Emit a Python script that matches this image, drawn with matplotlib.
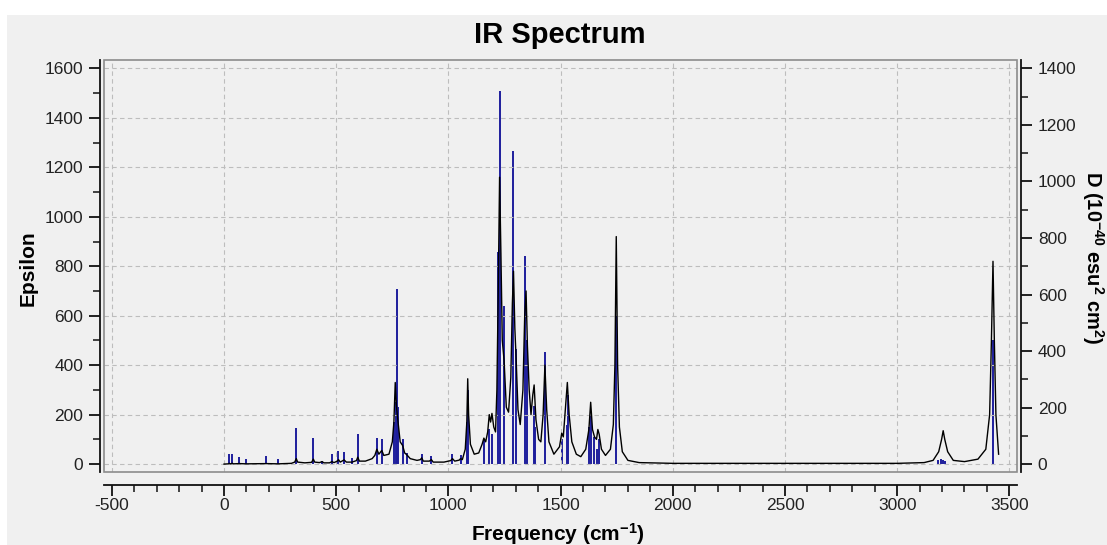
import matplotlib
matplotlib.use("Agg")
import matplotlib.pyplot as plt
from matplotlib.patches import Rectangle
from matplotlib.ticker import MultipleLocator, FixedLocator

plt.rcParams['font.family'] = ['Liberation Sans', 'DejaVu Sans']
plt.rcParams['mathtext.default'] = 'regular'
plt.rcParams['axes.unicode_minus'] = False

# ---- data ----
stick_freq = [24, 37, 68, 100, 189, 241, 322, 398, 437, 481, 510, 535, 569, 596,
              681, 703, 759, 766, 770, 776, 796, 814, 881, 924, 1018, 1054, 1083,
              1088, 1158, 1180, 1192, 1220, 1232, 1248, 1290, 1302, 1342, 1350,
              1380, 1386, 1431, 1505, 1528, 1534, 1628, 1635, 1651, 1660, 1672,
              1748, 3180, 3195, 3205, 3215, 3428]
stick_D = [37, 37, 26, 17, 27, 18, 128, 92, 10, 37, 47, 42, 21, 107,
           92, 87, 149, 219, 621, 201, 87, 39, 35, 28, 35, 31, 149,
           262, 87, 125, 105, 752, 1321, 560, 1107, 408, 735, 438,
           204, 131, 398, 88, 140, 245, 131, 175, 96, 52, 88,
           525, 13, 17, 16, 10, 438]

curve_freq = [0, 20, 24, 28, 37, 42, 68, 100, 189, 241, 300, 315, 322, 328, 360, 390,
              398, 404, 425, 437, 445, 470, 481, 490, 505, 510, 518, 535, 545, 570,
              590, 596, 603, 630, 660, 672, 681, 690, 703, 712, 735, 750, 757, 763,
              768, 772, 778, 785, 796, 805, 814, 830, 860, 875, 881, 888, 915, 924,
              932, 980, 1010, 1018, 1028, 1048, 1054, 1062, 1075, 1082, 1086, 1090,
              1098, 1115, 1135, 1150, 1158, 1166, 1175, 1182, 1188, 1194, 1202, 1210,
              1216, 1222, 1228, 1234, 1240, 1248, 1258, 1268, 1278, 1285, 1290, 1296,
              1302, 1310, 1320, 1332, 1340, 1346, 1352, 1360, 1368, 1376, 1382, 1390,
              1402, 1412, 1422, 1430, 1438, 1448, 1470, 1495, 1505, 1512, 1522, 1530,
              1538, 1550, 1570, 1590, 1612, 1626, 1634, 1642, 1651, 1660, 1666, 1672,
              1682, 1700, 1722, 1735, 1742, 1748, 1754, 1762, 1775, 1800, 1850, 2000,
              3000, 3120, 3160, 3185, 3198, 3205, 3212, 3225, 3250, 3300, 3360, 3395,
              3412, 3420, 3427, 3433, 3440, 3448, 3452]
curve_eps = [0, 1, 3, 1, 3, 1, 2, 1, 2, 1, 3, 8, 22, 8, 5, 7,
             20, 8, 6, 10, 5, 5, 10, 6, 12, 18, 8, 17, 8, 8,
             14, 28, 12, 12, 22, 35, 60, 40, 55, 35, 40, 90, 170, 330,
             240, 200, 150, 90, 75, 45, 38, 22, 15, 18, 25, 12, 12, 18,
             8, 8, 14, 22, 12, 16, 22, 18, 60, 170, 345, 200,
             80, 40, 45, 80, 105, 90, 130, 200, 170, 205, 150, 130,
             300, 700, 1160, 850, 500, 420, 230, 210, 350, 650, 780, 550,
             420, 220, 160, 300, 600, 700, 480, 300, 200, 280, 320, 180,
             100, 90, 200, 400, 220, 90, 40, 70, 125, 110, 230, 330,
             200, 90, 40, 30, 60, 140, 250, 140, 110, 100, 140, 120,
             60, 35, 60, 160, 400, 920, 400, 150, 50, 15, 6, 3,
             3, 6, 15, 50, 100, 135, 100, 50, 15, 10, 20, 60,
             200, 500, 820, 500, 200, 90, 40]

x_ticks = [-500, 0, 500, 1000, 1500, 2000, 2500, 3000, 3500]
eps_ticks = [0, 200, 400, 600, 800, 1000, 1200, 1400, 1600]
D_ticks = [0, 200, 400, 600, 800, 1000, 1200, 1400]

title = "IR Spectrum"
xlabel = "Frequency (cm$^{-1}$)"
ylabel = "Epsilon"
y2label = "D (10$^{-40}$ esu$^{2}$ cm$^{2}$)"

# ---- figure ----
W, H = 1107, 545
fig = plt.figure(figsize=(W / 100, H / 100), dpi=100, facecolor='white')
fig.patches.append(Rectangle((7 / W, 0), 1 - 7 / W, 1 - 15 / H, transform=fig.transFigure,
                             facecolor='#F0F0F0', edgecolor='none', zorder=-10))

L, R, T, B = 104, 1017, 60, 472
ax = fig.add_axes([L / W, 1 - B / H, (R - L) / W, (B - T) / H])
ax2 = ax.twinx()
ax.set_zorder(2)
ax2.set_zorder(1)
ax.patch.set_visible(False)
ax2.patch.set_facecolor('#FEFEF6')

ax.set_xlim(-535, 3534)
ax.set_ylim(-32, 1634)
ax2.set_ylim(-32 * 0.875, 1634 * 0.875)

ax2.vlines(stick_freq, 0, stick_D, color='#1E1E9C', lw=1.4)
ax.plot(curve_freq, curve_eps, color='black', lw=1.0)

ax.xaxis.set_major_locator(FixedLocator(x_ticks))
ax.xaxis.set_minor_locator(MultipleLocator(100))
ax.yaxis.set_major_locator(FixedLocator(eps_ticks))
ax.yaxis.set_minor_locator(MultipleLocator(100))
ax2.yaxis.set_major_locator(FixedLocator(D_ticks))
ax2.yaxis.set_minor_locator(MultipleLocator(100))

ax.grid(True, which='major', linestyle=(0, (4, 3)), color='#BDBDBD', lw=0.8)

for s in ['top', 'right']:
    ax.spines[s].set_visible(False)
for s in ['top', 'left', 'bottom']:
    ax2.spines[s].set_visible(False)
ax.spines['left'].set_position(('outward', 3))
ax.spines['bottom'].set_position(('outward', 9))
ax2.spines['right'].set_position(('outward', 3))
for sp in [ax.spines['left'], ax.spines['bottom'], ax2.spines['right']]:
    sp.set_linewidth(1.3)
    sp.set_color('#111111')

tick_kw = dict(labelsize=12.5, labelcolor='#222222', color='#111111', width=1.3)
ax.tick_params(axis='both', which='major', length=8, pad=4, **tick_kw)
ax.tick_params(axis='both', which='minor', length=5, width=1.1, color='#111111')
ax.tick_params(axis='x', which='major', pad=2)
ax2.tick_params(axis='y', which='major', length=8, pad=4, **tick_kw)
ax2.tick_params(axis='y', which='minor', length=5, width=1.1, color='#111111')

ax.add_patch(Rectangle((0, 0), 1, 1, transform=ax.transAxes, fill=False,
                       edgecolor='#8C8C8C', lw=1.2, clip_on=False, zorder=5))

fig.text(560 / W, 1 - 35 / H, title, ha='center', va='center', fontsize=21, fontweight='bold')
fig.text(28 / W, 1 - 268 / H, ylabel, ha='center', va='center', rotation=90,
         fontsize=15, fontweight='bold')
fig.text(558 / W, 1 - 534 / H, xlabel, ha='center', va='center', fontsize=15, fontweight='bold')
fig.text(1093 / W, 1 - 258 / H, y2label, ha='center', va='center', rotation=-90,
         fontsize=14.5, fontweight='bold')

fig.savefig('out.png', dpi=100, facecolor=fig.get_facecolor())
